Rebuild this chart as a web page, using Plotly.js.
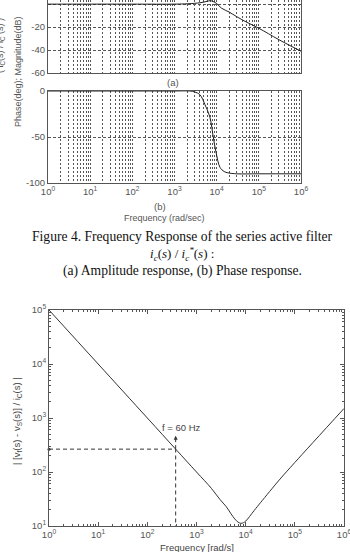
<!DOCTYPE html>
<html>
<head>
<meta charset="utf-8">
<script src="https://cdn.plot.ly/plotly-3.0.1.min.js"></script>
<style>html,body{margin:0;padding:0;background:#fff}#chart{width:350px;height:552px}</style>
</head>
<body>
<div id="chart"></div>
<script>
// (a) magnitude response of ic(s)/ic*(s)
const magFreq = [1, 10, 100, 1000, 2000, 3000, 4000, 5000, 6000, 7000, 8000, 10000, 13000, 20000, 29500, 50000, 100000, 300000, 1000000];
const magDb   = [0, 0, 0, 0, 0.3, 0.7, 1.2, 1.8, 2.5, 3, 2.5, 0.5, -3.5, -7, -10.8, -15.5, -21, -31, -41];
// (b) phase response
const phFreq = [1, 10, 100, 1000, 2340, 3000, 4000, 5300, 6950, 8300, 9600, 12000, 15000, 18600, 30000, 100000, 1000000];
const phDeg  = [0, 0, 0, 0, 0, -1, -4, -15, -29, -50, -66, -83, -87.5, -89, -90, -90, -90];
// |[vf(s)-vs(s)]/ic(s)|
const impFreq = [1, 10, 100, 377, 1000, 2000, 3000, 4000, 5000, 6000, 7000, 8000, 9000, 10000, 12000, 15000, 20000, 50000, 100000, 1000000];
const impMag  = [100000, 10000, 1000, 265, 100, 50, 31, 23, 17, 13.5, 11.8, 11.2, 11.5, 12.3, 15, 19.5, 27, 74, 150, 1500];
// 60 Hz marker
const f60Rad = 377;
const f60Mag = 265;
const f60ArrowTop = 470;
// ticks
const decades = [1, 10, 100, 1000, 10000, 100000, 1000000];
const decadeLabels = ['10<sup>0</sup>','10<sup>1</sup>','10<sup>2</sup>','10<sup>3</sup>','10<sup>4</sup>','10<sup>5</sup>','10<sup>6</sup>'];
const impDecades = [10, 100, 1000, 10000, 100000];
const impDecadeLabels = ['10<sup>1</sup>','10<sup>2</sup>','10<sup>3</sup>','10<sup>4</sup>','10<sup>5</sup>'];
const magTicks = [0, -20, -40, -60];
const phTicks = [0, -50, -100];

function minorVals(lo, hi) {
  const out = [];
  for (let d = lo; d < hi; d *= 10) for (let k = 2; k <= 9; k++) out.push(d * k);
  return out;
}
const xMinor = minorVals(1, 1000000);
const yMinor = minorVals(10, 100000);

const tickFont = {family: 'Liberation Sans, Arial, sans-serif', size: 9.5, color: '#555'};
const gridC = '#555';
const lineC = '#555';

const traces = [
  {x: magFreq, y: magDb, xaxis: 'x', yaxis: 'y', mode: 'lines', line: {color: '#222', width: 1, shape: 'spline'}, hoverinfo: 'skip'},
  {x: phFreq, y: phDeg, xaxis: 'x2', yaxis: 'y2', mode: 'lines', line: {color: '#222', width: 1, shape: 'spline'}, hoverinfo: 'skip'},
  {x: impFreq, y: impMag, xaxis: 'x3', yaxis: 'y3', mode: 'lines', line: {color: '#333', width: 1, shape: 'spline'}, hoverinfo: 'skip'},
  {x: [1, f60Rad, f60Rad], y: [f60Mag, f60Mag, 10], xaxis: 'x3', yaxis: 'y3', mode: 'lines', line: {color: '#333', width: 1, dash: '4px,3px'}, hoverinfo: 'skip'},
  {x: [f60Rad, f60Rad], y: [f60Mag, f60ArrowTop], xaxis: 'x3', yaxis: 'y3', mode: 'lines', line: {color: '#333', width: 1, dash: '4px,3px'}, hoverinfo: 'skip'},
  {x: [1], y: [f60Mag], xaxis: 'x3', yaxis: 'y3', mode: 'markers', marker: {color: '#333', size: 3}, hoverinfo: 'skip', cliponaxis: false}
];

const topX = {
  type: 'log', range: [0, 6], domain: [48/350, 301/350],
  tickvals: decades, ticktext: decadeLabels,
  showgrid: true, gridcolor: gridC, griddash: '2px,2px', gridwidth: 1,
  minor: {tickvals: xMinor, showgrid: true, gridcolor: gridC, griddash: '2px,2px', gridwidth: 1},
  showline: true, linecolor: lineC, linewidth: 1, zeroline: false, ticks: '',
  tickfont: tickFont, fixedrange: true, ticklabeloverflow: 'allow'
};

function note(text, px, py, extra) {
  return Object.assign({text: text, xref: 'paper', yref: 'paper', x: px/350, y: 1 - py/552,
    xanchor: 'center', yanchor: 'middle', showarrow: false}, extra || {});
}
const serif = {family: 'Liberation Serif, Times New Roman, serif', size: 13.6, color: '#111'};

const layout = {
  width: 350, height: 552,
  margin: {l: 0, r: 0, t: 0, b: 0},
  paper_bgcolor: '#fff', plot_bgcolor: '#fff',
  showlegend: false,
  font: {family: 'Liberation Sans, Arial, sans-serif', color: '#444'},
  xaxis: Object.assign({}, topX, {anchor: 'y', showticklabels: false, mirror: false}),
  yaxis: {
    domain: [1 - 73/552, 1], range: [-60, 3.6], anchor: 'x',
    tickvals: magTicks, ticktext: magTicks.map(String),
    showgrid: true, gridcolor: gridC, griddash: '3px,2px', gridwidth: 1,
    showline: true, mirror: true, linecolor: lineC, zeroline: false, ticks: '',
    tickfont: tickFont
  },
  xaxis2: Object.assign({}, topX, {anchor: 'y2', showticklabels: true, mirror: true}),
  yaxis2: {
    domain: [1 - 183/552, 1 - 91/552], range: [-100, 0], anchor: 'x2',
    tickvals: phTicks, ticktext: phTicks.map(String),
    showgrid: true, gridcolor: gridC, griddash: '3px,2px', gridwidth: 1,
    showline: true, mirror: true, linecolor: lineC, zeroline: false, ticks: '',
    tickfont: tickFont
  },
  xaxis3: {
    type: 'log', range: [0, 6], domain: [49/350, 344/350], anchor: 'y3',
    tickvals: decades, ticktext: decadeLabels,
    showgrid: false, showline: true, mirror: 'allticks', linecolor: lineC, zeroline: false,
    ticks: 'inside', ticklen: 4, tickcolor: lineC,
    minor: {tickvals: xMinor, ticks: 'inside', ticklen: 2, tickcolor: lineC},
    tickfont: tickFont, ticklabeloverflow: 'allow'
  },
  yaxis3: {
    type: 'log', range: [1, 5], domain: [1 - 526/552, 1 - 310/552], anchor: 'x3',
    tickvals: impDecades, ticktext: impDecadeLabels,
    showgrid: false, showline: true, mirror: 'allticks', linecolor: lineC, zeroline: false,
    ticks: 'inside', ticklen: 4, tickcolor: lineC,
    minor: {tickvals: yMinor, ticks: 'inside', ticklen: 2, tickcolor: lineC},
    tickfont: tickFont
  },
  annotations: [
    note('(a)', 173, 82, {font: {size: 9.5, color: '#555'}}),
    note('(b)', 160, 206, {font: {size: 9.5, color: '#555'}}),
    note('Frequency (rad/sec)', 164, 218, {font: {size: 9, color: '#555'}}),
    note('Phase(deg); Magnitude(dB)', 18, 72, {textangle: -90, font: {size: 9, color: '#555'}}),
    note('( i<sub>C</sub>(s) / i<sub>C</sub><sup>*</sup>(s) )', -1, 46, {textangle: -90, font: {size: 9, color: '#555'}}),
    note('Figure 4. Frequency Response of the series active filter', 182, 236.5, {font: serif}),
    note('<i>i<sub>c</sub></i>(<i>s</i>) / <i>i<sub>c</sub><sup>*</sup></i>(<i>s</i>) :', 182, 254, {font: {family: serif.family, size: 13, color: '#111'}}),
    note('(a) Amplitude response, (b) Phase response.', 182, 270.5, {font: serif}),
    note('f = 60 Hz', 181, 427, {font: {size: 9.5, color: '#444'}}),
    {text: '', xref: 'x3', yref: 'y3', x: Math.log10(f60Rad), y: Math.log10(f60ArrowTop), ax: 0, ay: 3, showarrow: true, arrowhead: 2, arrowsize: 0.8, arrowwidth: 1, arrowcolor: '#333'},
    note('Frequency [rad/s]', 197, 547, {font: {size: 9.5, color: '#444'}}),
    note('| [v<sub>f</sub>(s) - v<sub>S</sub>(s)] / i<sub>C</sub>(s) |', 17, 421, {textangle: -90, font: {size: 9.5, color: '#444'}})
  ]
};

Plotly.newPlot('chart', traces, layout, {staticPlot: true, displayModeBar: false});
</script>
</body>
</html>
